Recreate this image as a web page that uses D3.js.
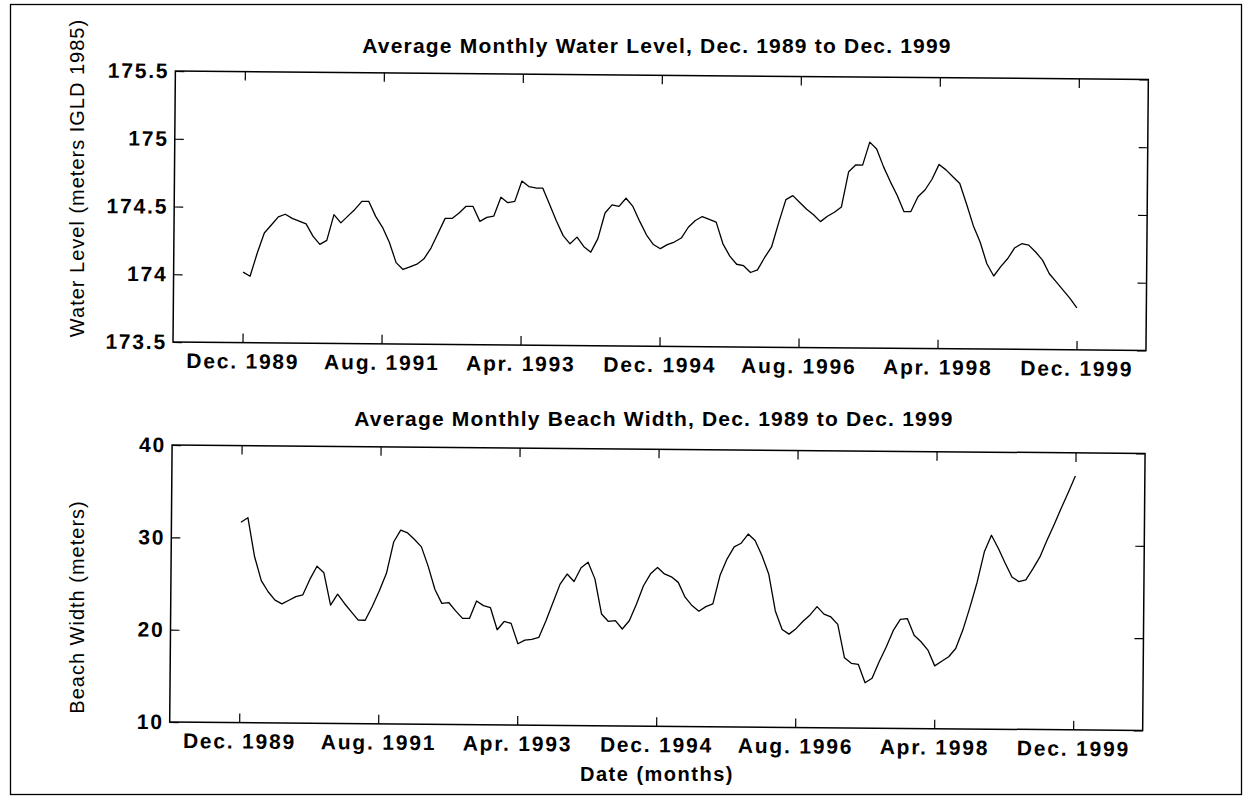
<!DOCTYPE html>
<html>
<head>
<meta charset="utf-8">
<script src="https://cdnjs.cloudflare.com/ajax/libs/d3/7.8.5/d3.min.js"></script>
<style>
  body { margin: 0; background: #fff; }
  svg text { font-family: "Liberation Sans", Arial, sans-serif; fill: #000; }
</style>
</head>
<body>
<script>
// x ticks: months counted from Dec. 1989
var tickMonths = [0, 20, 40, 60, 80, 100, 120];
var tickLabels = ["Dec. 1989", "Aug. 1991", "Apr. 1993", "Dec. 1994", "Aug. 1996", "Apr. 1998", "Dec. 1999"];

var levelTicks = [173.5, 174, 174.5, 175, 175.5];
var widthTicks = [10, 20, 30, 40];

// monthly average water level (m, IGLD 1985), Dec 1989 .. Dec 1999
var waterLevel = [
  174.02, 173.99, 174.16, 174.31, 174.37, 174.43, 174.45, 174.42, 174.40, 174.38,
  174.29, 174.23, 174.26, 174.45, 174.39, 174.44, 174.49, 174.55, 174.55, 174.44,
  174.36, 174.25, 174.10, 174.05, 174.07, 174.09, 174.13, 174.21, 174.32, 174.43,
  174.43, 174.47, 174.52, 174.52, 174.41, 174.44, 174.45, 174.59, 174.55, 174.56,
  174.71, 174.67, 174.66, 174.66, 174.54, 174.42, 174.31, 174.25, 174.30, 174.23,
  174.19, 174.29, 174.48, 174.54, 174.53, 174.59, 174.53, 174.42, 174.32, 174.25,
  174.22, 174.25, 174.27, 174.30, 174.38, 174.43, 174.46, 174.44, 174.42, 174.26,
  174.17, 174.11, 174.10, 174.05, 174.07, 174.16, 174.24, 174.42, 174.59, 174.62,
  174.57, 174.52, 174.48, 174.43, 174.47, 174.50, 174.54, 174.80, 174.85, 174.85,
  175.02, 174.97, 174.84, 174.73, 174.63, 174.51, 174.51, 174.62, 174.67, 174.75,
  174.86, 174.82, 174.77, 174.72, 174.57, 174.41, 174.29, 174.13, 174.04, 174.11,
  174.17, 174.25, 174.28, 174.27, 174.22, 174.16, 174.06, 174.00, 173.94, 173.88,
  173.81
];

// monthly average beach width (m)
var beachWidth = [
  31.7, 32.2, 28.0, 25.4, 24.2, 23.3, 22.9, 23.3, 23.7, 23.9,
  25.6, 27.0, 26.3, 22.8, 24.0, 23.0, 22.1, 21.2, 21.2, 22.7,
  24.4, 26.3, 29.7, 31.0, 30.7, 30.0, 29.2, 27.1, 24.6, 23.1,
  23.2, 22.3, 21.5, 21.5, 23.4, 22.9, 22.7, 20.3, 21.2, 21.0,
  18.8, 19.2, 19.3, 19.5, 21.3, 23.3, 25.3, 26.4, 25.6, 27.1,
  27.7, 25.9, 22.1, 21.3, 21.4, 20.5, 21.4, 23.2, 25.2, 26.5,
  27.2, 26.5, 26.2, 25.6, 24.0, 23.1, 22.5, 23.0, 23.3, 26.4,
  28.2, 29.5, 29.9, 30.9, 30.2, 28.6, 26.6, 22.6, 20.6, 20.1,
  20.7, 21.5, 22.2, 23.1, 22.3, 22.0, 21.2, 17.6, 17.0, 16.9,
  14.9, 15.4, 17.2, 18.8, 20.6, 21.8, 21.9, 20.1, 19.4, 18.5,
  16.8, 17.3, 17.8, 18.7, 20.7, 23.2, 25.9, 29.2, 31.0, 29.6,
  28.0, 26.5, 26.0, 26.2, 27.4, 28.7, 30.5, 32.2, 34.0, 35.7,
  37.5
];

var svg = d3.select("body").append("svg")
    .attr("width", 1250)
    .attr("height", 811)
    .style("display", "block");

// outer figure frame
svg.append("rect")
  .attr("x", 10.5).attr("y", 4.5)
  .attr("width", 1231).attr("height", 790)
  .attr("fill", "none").attr("stroke", "#000").attr("stroke-width", 1.3);

// the scanned original sits slightly tilted
var chart = svg.append("g").attr("transform", "rotate(0.5,173,400)");

var x = d3.scaleLinear().domain([-10, 130]).range([172.5, 1145.5]);

function styleTicks(sel) {
  sel.select(".domain").remove();
  sel.selectAll("line").attr("stroke", "#000").attr("stroke-width", 1.2);
  sel.selectAll("text")
    .style("font-size", "21px")
    .style("font-weight", "bold")
    .style("letter-spacing", "1.8px")
    .style("font-family", "'Liberation Sans', Arial, sans-serif");
}

function drawPanel(top, bottom, yDomain, yTicks, data) {
  var y = d3.scaleLinear().domain(yDomain).range([bottom, top]);
  var g = chart.append("g");

  g.append("g")
    .attr("transform", "translate(0," + bottom + ")")
    .call(d3.axisBottom(x).tickValues(tickMonths)
      .tickFormat(function(d, i) { return tickLabels[i]; })
      .tickSizeInner(-9).tickSizeOuter(0).tickPadding(11))
    .call(styleTicks);

  g.append("g")
    .attr("transform", "translate(0," + top + ")")
    .call(d3.axisTop(x).tickValues(tickMonths).tickFormat("")
      .tickSizeInner(-9).tickSizeOuter(0))
    .call(styleTicks);

  g.append("g")
    .attr("transform", "translate(" + x.range()[0] + ",0)")
    .call(d3.axisLeft(y).tickValues(yTicks).tickFormat(d3.format("~g"))
      .tickSizeInner(-9).tickSizeOuter(0).tickPadding(6))
    .call(styleTicks);

  g.append("g")
    .attr("transform", "translate(" + x.range()[1] + ",0)")
    .call(d3.axisRight(y).tickValues(yTicks).tickFormat("")
      .tickSizeInner(-9).tickSizeOuter(0))
    .call(styleTicks);

  g.append("rect")
    .attr("x", x.range()[0]).attr("y", top)
    .attr("width", x.range()[1] - x.range()[0])
    .attr("height", bottom - top)
    .attr("fill", "none").attr("stroke", "#000").attr("stroke-width", 1.5);

  var line = d3.line()
    .x(function(d, i) { return x(i); })
    .y(function(d) { return y(d); });

  g.append("path")
    .datum(data)
    .attr("d", line)
    .attr("fill", "none")
    .attr("stroke", "#000")
    .attr("stroke-width", 1.3)
    .attr("stroke-linejoin", "round");
}

drawPanel(71, 342, [173.5, 175.5], levelTicks, waterLevel);
drawPanel(445, 722, [10, 40], widthTicks, beachWidth);

// titles and axis labels
function label(txt, x0, y0, size, weight, spacing, rot) {
  var t = svg.append("text")
    .attr("text-anchor", "middle")
    .style("font-size", size + "px")
    .style("font-weight", weight)
    .style("letter-spacing", spacing + "px")
    .text(txt);
  if (rot) t.attr("transform", "translate(" + x0 + "," + y0 + ") rotate(-90)");
  else t.attr("x", x0).attr("y", y0);
}

label("Average Monthly Water Level, Dec. 1989 to Dec. 1999", 657, 53, 21, "bold", 1.2);
label("Average Monthly Beach Width, Dec. 1989 to Dec. 1999", 654, 426, 21, "bold", 1.2);
label("Water Level (meters IGLD 1985)", 84, 178, 20, "normal", 1, true);
label("Beach Width (meters)", 84, 607, 20, "normal", 1, true);
label("Date (months)", 657, 781, 20, "bold", 1.5);
</script>
</body>
</html>
